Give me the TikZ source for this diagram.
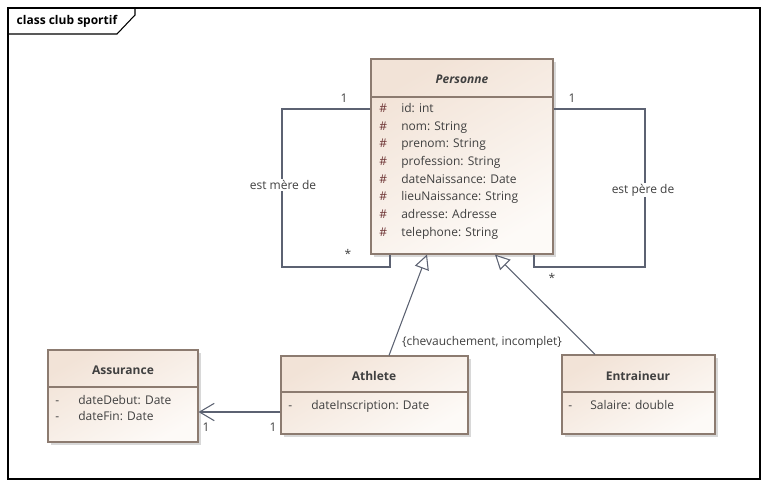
\documentclass[tikz,border=0pt]{standalone}
\usepackage{fontspec}
\setmainfont{Open Sans}
\usetikzlibrary{arrows.meta, positioning, fit, shadows, calc}
\definecolor{umlbord}{HTML}{8C7B70}
\definecolor{umlfond}{HTML}{F2E3D7}
\definecolor{umlclair}{HTML}{FDFAF7}
\definecolor{umllien}{HTML}{5C6272}
\definecolor{umltexte}{HTML}{404040}
\definecolor{umldiese}{HTML}{6E3535}

\begin{document}
\begin{tikzpicture}[x=0.75pt,y=-0.75pt,font=\fontsize{9}{11}\selectfont,
    classe/.style={draw=umlbord,line width=0.8pt,top color=umlfond,bottom color=umlclair,shading angle=30,inner sep=0pt,
      drop shadow={shadow xshift=2.5pt,shadow yshift=-2.5pt,fill=black!30}},
    titre/.style={font=\fontsize{9}{11}\selectfont\bfseries,text=umltexte},
    attr/.style={anchor=west,text=umltexte,inner sep=0pt,text height=7pt,text depth=2pt},
    diese/.style={attr,text=umldiese},
    etiq/.style={text=umltexte,inner sep=1pt},
    lien/.style={draw=umllien,line width=0.8pt},
    herite/.style={lien,-{Triangle[length=11pt,width=11pt,fill=white]}}]
  \useasboundingbox (0,0) rectangle (768,487);
  % cadre
  \draw[line width=0.8pt] (8,8) rectangle (760,479);
  \draw[line width=0.8pt] (8,34) -- (117,34) -- (135,15) -- (135,8);
  \node[anchor=west,font=\fontsize{9}{11}\selectfont\bfseries] (cadre) at (12,21) {class club sportif};

  % classes
  \node[classe,fit={(371,59) (553,254)}] (personne) {};
  \draw[umlbord,line width=0.8pt] (personne.west |- 0,97) -- (personne.east |- 0,97);
  \node[titre,font=\fontsize{9}{11}\selectfont\bfseries\itshape] (personne-t) at (462,79) {Personne};
  \foreach \a [count=\i] in {id: int, nom: String, prenom: String, profession: String,
      dateNaissance: Date, lieuNaissance: String, adresse: Adresse, telephone: String} {
    \node[diese] (personne-d\i) at (379,{109+17.7*(\i-1)}) {\#};
    \node[attr] (personne-a\i) at (401,{109+17.7*(\i-1)}) {\a};
  }

  \node[classe,fit={(281,356) (468,434)}] (athlete) {};
  \draw[umlbord,line width=0.8pt] (athlete.west |- 0,392) -- (athlete.east |- 0,392);
  \node[titre] (athlete-t) at (374,376) {Athlete};
  \node[attr] (athlete-d1) at (288,406) {-};
  \node[attr] (athlete-a1) at (311,406) {dateInscription: Date};

  \node[classe,fit={(562,355) (715,434)}] (entraineur) {};
  \draw[umlbord,line width=0.8pt] (entraineur.west |- 0,392) -- (entraineur.east |- 0,392);
  \node[titre] (entraineur-t) at (638,376) {Entraineur};
  \node[attr] (entraineur-d1) at (568,406) {-};
  \node[attr] (entraineur-a1) at (590,406) {Salaire: double};

  \node[classe,fit={(48,350) (198,442)}] (assurance) {};
  \draw[umlbord,line width=0.8pt] (assurance.west |- 0,387) -- (assurance.east |- 0,387);
  \node[titre] (assurance-t) at (123,370) {Assurance};
  \foreach \a [count=\i] in {dateDebut: Date, dateFin: Date} {
    \node[attr] (assurance-d\i) at (55,{401+16.5*(\i-1)}) {-};
    \node[attr] (assurance-a\i) at (78,{401+16.5*(\i-1)}) {\a};
  }

  % associations reflexives
  \draw[lien] (personne.west |- 0,109) -| (282,267) -| (personne.south -| 390,0);
  \node[etiq,fill=white] (mere) at (283,185) {est mère de};
  \node[etiq] (mere-1) at (344,98) {1};
  \node[etiq] (mere-n) at (348,254) {*};
  \draw[lien] (personne.east |- 0,109) -| (645,267) -| (personne.south -| 534,0);
  \node[etiq,fill=white] (pere) at (643,190) {est père de};
  \node[etiq] (pere-1) at (572,98) {1};
  \node[etiq] (pere-n) at (552,278) {*};

  % heritage
  \draw[herite] (athlete.north -| 389,0) -- (personne.south -| 427,0);
  \draw[herite] (entraineur.north -| 595,0) -- (personne.south -| 495,0);
  \node[etiq] (contrainte) at (482,342) {\{chevauchement, incomplet\}};

  % association
  \draw[lien,-{Straight Barb[length=11pt,width=13pt]}] (athlete.west |- 0,412) -- (assurance.east |- 0,412);
  \node[etiq] (assur-1) at (206,427) {1};
  \node[etiq] (athlete-1) at (273,427) {1};
\end{tikzpicture}
\end{document}
